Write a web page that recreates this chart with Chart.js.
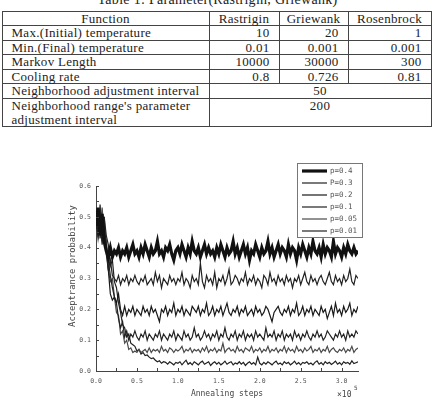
<!DOCTYPE html>
<html>
<head>
<meta charset="utf-8">
<script src="https://cdn.jsdelivr.net/npm/chart.js"></script>
<style>
  body { margin: 0; width: 435px; height: 412px; background: #fff; position: relative; overflow: hidden; }
  #cap { position: absolute; left: 0; top: -8px; width: 435px; text-align: center; letter-spacing: 0.3px;
         font: 14px/16px "Liberation Serif", serif; color: #222; }
  table { position: absolute; left: 1.5px; top: 10.5px; width: 429px; border-collapse: collapse;
          table-layout: fixed; font: 13px "Liberation Serif", serif; color: #222; letter-spacing: 0.3px; }
  td, th { border: 1px solid #444; padding: 0 9px; line-height: 13.6px; height: 13.6px; font-weight: normal; }
  th { text-align: center; padding: 0 4px; }
  td.n { text-align: right; }
  td.c { text-align: center; vertical-align: top; }
  canvas { position: absolute; left: 0; top: 0; }
</style>
</head>
<body>
<div id="cap">Table 1: Parameter(Rastrigin, Griewank)</div>
<table>
  <colgroup><col style="width:207px"><col style="width:70px"><col style="width:69px"><col style="width:83px"></colgroup>
  <tr><th>Function</th><th>Rastrigin</th><th>Griewank</th><th>Rosenbrock</th></tr>
  <tr><td>Max.(Initial) temperature</td><td class="n">10</td><td class="n">20</td><td class="n">1</td></tr>
  <tr><td>Min.(Final) temperature</td><td class="n">0.01</td><td class="n">0.001</td><td class="n">0.001</td></tr>
  <tr><td>Markov Length</td><td class="n">10000</td><td class="n">30000</td><td class="n">300</td></tr>
  <tr><td>Cooling rate</td><td class="n">0.8</td><td class="n">0.726</td><td class="n">0.81</td></tr>
  <tr><td>Neighborhood adjustment interval</td><td class="c" colspan="3">50</td></tr>
  <tr><td style="vertical-align:top">Neighborhood range's parameter adjustment interval</td><td class="c" colspan="3">200</td></tr>
</table>
<canvas id="chart" width="435" height="412"></canvas>
<script>
// annealing steps (x 10^5)
const steps = [0,0.025,0.05,0.075,0.1,0.125,0.15,0.175,0.2,0.225,
  0.25,0.275,0.3,0.325,0.35,0.375,0.4,0.425,0.45,0.475,
  0.5,0.525,0.55,0.575,0.6,0.625,0.65,0.675,0.7,0.725,
  0.75,0.775,0.8,0.825,0.85,0.875,0.9,0.925,0.95,0.975,
  1.0,1.025,1.05,1.075,1.1,1.125,1.15,1.175,1.2,1.225,
  1.25,1.275,1.3,1.325,1.35,1.375,1.4,1.425,1.45,1.475,
  1.5,1.525,1.55,1.575,1.6,1.625,1.65,1.675,1.7,1.725,
  1.75,1.775,1.8,1.825,1.85,1.875,1.9,1.925,1.95,1.975,
  2.0,2.025,2.05,2.075,2.1,2.125,2.15,2.175,2.2,2.225,
  2.25,2.275,2.3,2.325,2.35,2.375,2.4,2.425,2.45,2.475,
  2.5,2.525,2.55,2.575,2.6,2.625,2.65,2.675,2.7,2.725,
  2.75,2.775,2.8,2.825,2.85,2.875,2.9,2.925,2.95,2.975,
  3.0,3.025,3.05,3.075,3.1,3.125,3.15,3.175,3.2];

const labels = ['p=0.4', 'P=0.3', 'p=0.2', 'p=0.1', 'p=0.05', 'p=0.01'];

const p40 = [0.47,0.53,0.44,0.51,0.42,0.39,0.37,0.40,0.37,0.39,
  0.38,0.40,0.37,0.39,0.38,0.40,0.37,0.39,0.41,0.38,
  0.39,0.37,0.40,0.38,0.41,0.39,0.37,0.40,0.38,0.39,
  0.42,0.38,0.39,0.37,0.40,0.39,0.41,0.38,0.36,0.39,
  0.40,0.38,0.41,0.39,0.37,0.40,0.38,0.42,0.39,0.38,
  0.40,0.37,0.39,0.41,0.38,0.40,0.38,0.39,0.37,0.40,
  0.38,0.41,0.39,0.37,0.40,0.38,0.39,0.42,0.38,0.40,
  0.37,0.39,0.41,0.38,0.40,0.36,0.39,0.38,0.41,0.39,
  0.37,0.40,0.38,0.39,0.42,0.38,0.40,0.37,0.39,0.41,
  0.38,0.40,0.39,0.37,0.41,0.38,0.40,0.39,0.36,0.40,
  0.38,0.41,0.39,0.37,0.40,0.38,0.42,0.39,0.38,0.40,
  0.37,0.41,0.38,0.40,0.39,0.37,0.42,0.38,0.40,0.39,
  0.37,0.40,0.38,0.41,0.39,0.38,0.40,0.38,0.39];

const p30 = [0.48,0.44,0.54,0.43,0.50,0.38,0.33,0.36,0.31,0.30,
  0.29,0.31,0.28,0.30,0.29,0.31,0.28,0.30,0.29,0.31,
  0.29,0.28,0.30,0.29,0.31,0.28,0.29,0.30,0.28,0.32,
  0.29,0.31,0.27,0.30,0.29,0.28,0.31,0.29,0.30,0.28,
  0.30,0.29,0.32,0.28,0.30,0.29,0.27,0.31,0.29,0.30,
  0.28,0.35,0.29,0.27,0.31,0.29,0.30,0.28,0.32,0.27,
  0.30,0.29,0.31,0.28,0.30,0.33,0.28,0.29,0.31,0.30,
  0.28,0.30,0.29,0.32,0.28,0.30,0.29,0.31,0.28,0.30,
  0.29,0.27,0.31,0.30,0.28,0.32,0.29,0.30,0.28,0.31,
  0.29,0.30,0.28,0.31,0.29,0.30,0.27,0.30,0.29,0.31,
  0.28,0.30,0.32,0.29,0.28,0.31,0.29,0.30,0.28,0.30,
  0.31,0.29,0.28,0.30,0.32,0.29,0.28,0.31,0.29,0.30,
  0.28,0.31,0.29,0.30,0.33,0.29,0.28,0.31,0.30];

const p20 = [0.46,0.51,0.43,0.49,0.44,0.40,0.33,0.25,0.23,0.24,
  0.22,0.25,0.20,0.18,0.21,0.18,0.20,0.19,0.21,0.18,
  0.20,0.19,0.18,0.21,0.19,0.20,0.18,0.21,0.19,0.20,
  0.18,0.16,0.20,0.19,0.21,0.18,0.20,0.19,0.22,0.18,
  0.20,0.19,0.21,0.18,0.20,0.19,0.18,0.21,0.20,0.19,
  0.21,0.18,0.20,0.19,0.22,0.18,0.19,0.21,0.18,0.20,
  0.19,0.21,0.18,0.20,0.22,0.19,0.18,0.20,0.19,0.21,
  0.18,0.20,0.19,0.21,0.18,0.19,0.20,0.18,0.21,0.19,
  0.20,0.18,0.19,0.21,0.20,0.18,0.16,0.19,0.20,0.21,
  0.19,0.18,0.20,0.19,0.21,0.18,0.20,0.19,0.22,0.18,
  0.19,0.21,0.18,0.20,0.19,0.21,0.18,0.20,0.19,0.18,
  0.21,0.19,0.20,0.17,0.19,0.21,0.18,0.22,0.19,0.20,
  0.18,0.21,0.19,0.20,0.22,0.18,0.20,0.19,0.21];

const p10 = [0.50,0.45,0.52,0.42,0.47,0.41,0.36,0.31,0.27,0.24,
  0.22,0.17,0.14,0.16,0.11,0.13,0.10,0.12,0.11,0.13,
  0.11,0.10,0.12,0.11,0.13,0.10,0.12,0.11,0.10,0.12,
  0.11,0.13,0.10,0.12,0.11,0.10,0.12,0.11,0.13,0.10,
  0.12,0.11,0.10,0.13,0.11,0.12,0.10,0.11,0.14,0.11,
  0.12,0.10,0.11,0.13,0.11,0.12,0.10,0.12,0.11,0.13,
  0.10,0.12,0.11,0.14,0.11,0.10,0.12,0.11,0.13,0.10,
  0.12,0.11,0.13,0.10,0.12,0.11,0.12,0.10,0.13,0.11,
  0.12,0.11,0.10,0.14,0.11,0.12,0.11,0.13,0.10,0.12,
  0.11,0.13,0.10,0.12,0.11,0.12,0.10,0.13,0.11,0.12,
  0.10,0.12,0.11,0.13,0.11,0.10,0.12,0.11,0.13,0.11,
  0.12,0.10,0.11,0.13,0.12,0.11,0.10,0.12,0.11,0.13,
  0.11,0.12,0.10,0.13,0.11,0.12,0.11,0.13,0.12];

const p05 = [0.45,0.50,0.46,0.53,0.44,0.43,0.33,0.29,0.30,0.24,
  0.19,0.18,0.12,0.13,0.09,0.10,0.07,0.075,0.06,0.065,
  0.06,0.07,0.06,0.065,0.07,0.06,0.075,0.06,0.07,0.065,
  0.07,0.06,0.08,0.065,0.07,0.06,0.075,0.07,0.06,0.07,
  0.065,0.07,0.08,0.06,0.07,0.065,0.075,0.06,0.07,0.065,
  0.07,0.06,0.075,0.065,0.08,0.06,0.07,0.065,0.075,0.06,
  0.07,0.065,0.09,0.06,0.07,0.075,0.065,0.07,0.06,0.08,
  0.065,0.07,0.06,0.075,0.07,0.065,0.08,0.06,0.07,0.065,
  0.075,0.06,0.07,0.065,0.08,0.06,0.07,0.065,0.075,0.06,
  0.07,0.065,0.08,0.06,0.075,0.065,0.07,0.06,0.08,0.065,
  0.07,0.06,0.075,0.065,0.07,0.08,0.06,0.07,0.065,0.075,
  0.06,0.07,0.065,0.08,0.06,0.07,0.075,0.065,0.06,0.07,
  0.065,0.075,0.06,0.07,0.065,0.08,0.06,0.07,0.075];

const p01 = [0.49,0.43,0.49,0.41,0.50,0.44,0.41,0.34,0.36,0.29,
  0.27,0.22,0.19,0.15,0.14,0.11,0.12,0.09,0.085,0.08,
  0.065,0.07,0.055,0.06,0.05,0.052,0.045,0.04,0.042,0.035,
  0.03,0.033,0.025,0.03,0.028,0.022,0.03,0.025,0.02,0.028,
  0.025,0.03,0.02,0.028,0.035,0.022,0.027,0.02,0.03,0.025,
  0.02,0.028,0.032,0.022,0.026,0.03,0.018,0.025,0.03,0.022,
  0.028,0.02,0.025,0.032,0.022,0.027,0.03,0.02,0.026,0.023,
  0.03,0.022,0.028,0.018,0.025,0.03,0.022,0.027,0.02,0.045,
  0.025,0.02,0.028,0.022,0.03,0.025,0.02,0.027,0.032,0.022,
  0.026,0.02,0.03,0.024,0.028,0.02,0.025,0.032,0.022,0.027,
  0.02,0.028,0.025,0.03,0.022,0.026,0.02,0.028,0.033,0.022,
  0.027,0.02,0.03,0.024,0.028,0.021,0.026,0.032,0.022,0.027,
  0.02,0.03,0.025,0.028,0.022,0.033,0.024,0.027,0.03];

const series = [p40, p30, p20, p10, p05, p01];
const colors = ['#111', '#222', '#1a1a1a', '#222', '#4a4a4a', '#222'];
const widths = [3.2, 1.2, 1.2, 1.2, 1.2, 1.2];

const mono = '"DejaVu Sans Mono", monospace';

// inward ticks, legend box and axis titles
const decor = {
  id: 'decor',
  afterDraw(chart) {
    const {ctx, scales: {x, y}} = chart;
    ctx.save();
    ctx.strokeStyle = '#444';
    ctx.lineWidth = 1;
    ctx.beginPath();
    for (let v = 0; v <= 3.01; v += 0.25) {
      const px = Math.round(x.getPixelForValue(v)) + 0.5;
      ctx.moveTo(px, y.bottom);
      ctx.lineTo(px, y.bottom - 3);
    }
    for (let v = 0; v <= 0.601; v += 0.05) {
      const py = Math.round(y.getPixelForValue(v)) + 0.5;
      ctx.moveTo(x.left, py);
      ctx.lineTo(x.left + 3, py);
    }
    ctx.stroke();

    // legend
    ctx.fillStyle = '#fff';
    ctx.fillRect(297.5, 163.5, 65, 74);
    ctx.strokeStyle = '#777';
    ctx.strokeRect(297.5, 163.5, 65, 74);
    ctx.font = '7.5px ' + mono;
    ctx.textBaseline = 'middle';
    chart.data.datasets.forEach((ds, i) => {
      const ly = 171 + i * 12;
      ctx.strokeStyle = ds.borderColor;
      ctx.lineWidth = ds.borderWidth;
      ctx.beginPath();
      ctx.moveTo(302, ly);
      ctx.lineTo(327, ly);
      ctx.stroke();
      ctx.fillStyle = '#555';
      ctx.fillText(ds.label, 330, ly);
    });

    // axis titles
    ctx.fillStyle = '#444';
    ctx.font = '8px ' + mono;
    ctx.textAlign = 'center';
    ctx.fillText('Annealing steps', 227, 394);
    ctx.save();
    ctx.translate(73, 266);
    ctx.rotate(-Math.PI / 2);
    ctx.font = '8.8px ' + mono;
    ctx.fillText('Acceptrance probability', 0, 0);
    ctx.restore();
    ctx.textAlign = 'left';
    ctx.font = '8px ' + mono;
    ctx.fillText('×10', 337, 395);
    ctx.font = '6px ' + mono;
    ctx.fillText('5', 354, 388);
    ctx.restore();
  }
};

new Chart(document.getElementById('chart'), {
  type: 'line',
  data: {
    labels: steps,
    datasets: series.map((d, i) => ({
      label: labels[i],
      data: d,
      borderColor: colors[i],
      borderWidth: widths[i],
      pointRadius: 0,
      tension: 0,
      fill: false
    }))
  },
  options: {
    responsive: false,
    animation: false,
    layout: { padding: { top: 186, right: 77, left: 0, bottom: 0 } },
    plugins: { legend: { display: false }, tooltip: { enabled: false } },
    scales: {
      x: {
        type: 'linear',
        min: 0, max: 3.2,
        grid: { display: false, drawTicks: false },
        border: { display: true, color: '#444', width: 1 },
        ticks: { stepSize: 0.5, includeBounds: false, padding: 6, maxRotation: 0,
                 color: '#555', font: { family: mono, size: 6.5 },
                 callback: v => v.toFixed(1) },
        afterFit: s => { s.height = 41; }
      },
      y: {
        min: 0, max: 0.6,
        grid: { display: false, drawTicks: false },
        border: { display: true, color: '#444', width: 1 },
        ticks: { stepSize: 0.1, padding: 5, color: '#555', font: { family: mono, size: 6.5 },
                 callback: v => v.toFixed(1) },
        afterFit: s => { s.width = 96; }
      }
    }
  },
  plugins: [decor]
});
</script>
</body>
</html>
